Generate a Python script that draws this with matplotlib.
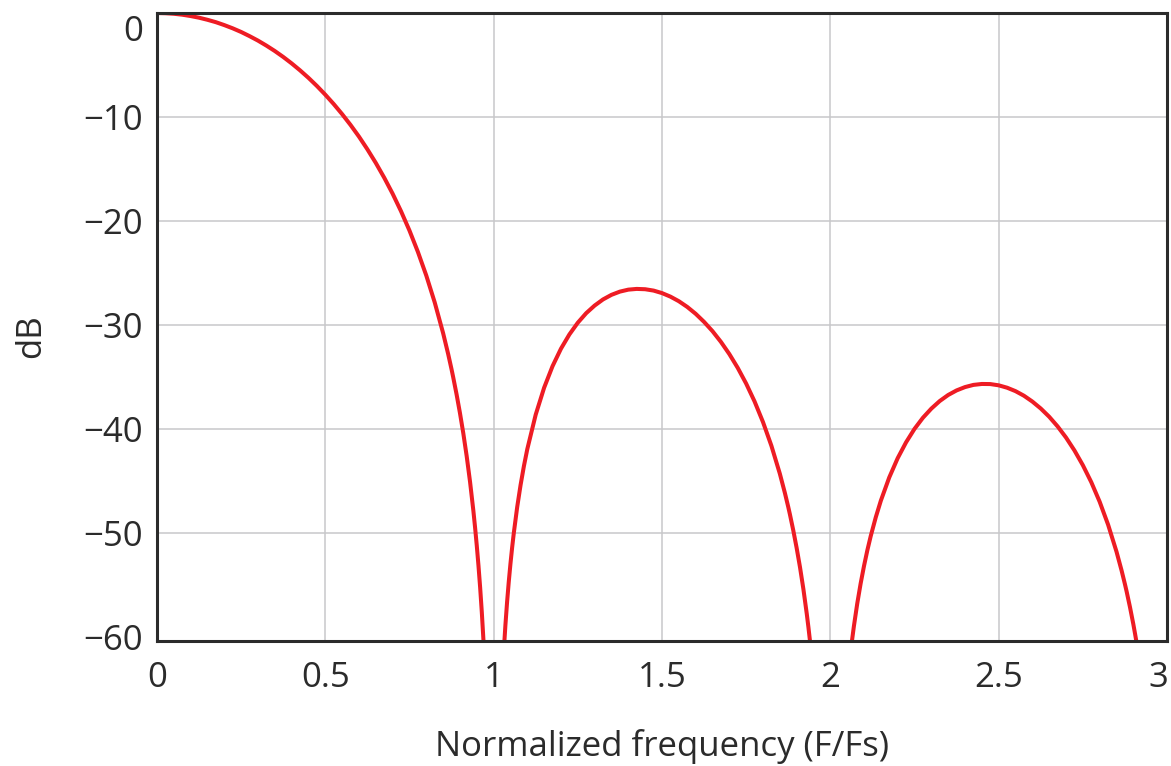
import matplotlib
matplotlib.use("Agg")
import matplotlib.pyplot as plt
import matplotlib.transforms as mtransforms

# Values (normalized frequency, dB), one list per lobe
main_f = [0.0, 0.025, 0.05, 0.075, 0.1, 0.125, 0.15, 0.175, 0.2, 0.225, 0.25,
          0.275, 0.3, 0.325, 0.35, 0.375, 0.4, 0.425, 0.45, 0.475, 0.5, 0.525,
          0.55, 0.575, 0.6, 0.625, 0.65, 0.675, 0.7, 0.725, 0.75, 0.775, 0.8,
          0.825, 0.85, 0.865, 0.875, 0.88, 0.89, 0.9, 0.91, 0.92, 0.93, 0.94,
          0.945, 0.95, 0.955, 0.96, 0.965, 0.97, 0.975]
main_db = [0.0, -0.02, -0.07, -0.16, -0.29, -0.45, -0.65, -0.88, -1.16, -1.47,
           -1.82, -2.22, -2.65, -3.13, -3.65, -4.22, -4.84, -5.51, -6.23, -7.01,
           -7.85, -8.75, -9.72, -10.76, -11.88, -13.10, -14.41, -15.83, -17.37,
           -19.06, -20.91, -22.96, -25.24, -27.82, -30.78, -32.79, -34.25,
           -35.03, -36.67, -38.46, -40.42, -42.61, -45.08, -47.90, -49.49,
           -51.22, -53.13, -55.25, -57.65, -60.41, -63.66]

lobe1_f = [1.03, 1.035, 1.04, 1.045, 1.05, 1.055, 1.06, 1.07, 1.08, 1.09, 1.1,
           1.125, 1.15, 1.175, 1.2, 1.225, 1.25, 1.275, 1.3, 1.325, 1.35, 1.375,
           1.4, 1.425, 1.45, 1.475, 1.5, 1.525, 1.55, 1.575, 1.6, 1.625, 1.65,
           1.675, 1.7, 1.725, 1.75, 1.775, 1.8, 1.825, 1.85, 1.865, 1.875, 1.88,
           1.89, 1.9, 1.91, 1.92, 1.93, 1.935, 1.94, 1.945]
lobe1_db = [-61.46, -58.87, -56.64, -54.69, -52.96, -51.40, -49.99, -47.51,
            -45.40, -43.56, -41.94, -38.62, -36.03, -33.96, -32.28, -30.91,
            -29.78, -28.86, -28.13, -27.54, -27.10, -26.79, -26.60, -26.53,
            -26.56, -26.69, -26.93, -27.27, -27.71, -28.26, -28.92, -29.70,
            -30.59, -31.62, -32.79, -34.12, -35.63, -37.35, -39.33, -41.61,
            -44.29, -46.14, -47.49, -48.21, -49.75, -51.44, -53.30, -55.39,
            -57.76, -59.07, -60.49, -62.03]

lobe2_f = [2.06, 2.065, 2.07, 2.08, 2.09, 2.1, 2.11, 2.12, 2.135, 2.15, 2.175,
           2.2, 2.225, 2.25, 2.275, 2.3, 2.325, 2.35, 2.375, 2.4, 2.425, 2.45,
           2.475, 2.5, 2.525, 2.55, 2.575, 2.6, 2.625, 2.65, 2.675, 2.7, 2.725,
           2.75, 2.775, 2.8, 2.825, 2.85, 2.865, 2.875, 2.88, 2.89, 2.9, 2.905,
           2.91]
lobe2_db = [-61.53, -60.20, -58.97, -56.78, -54.87, -53.18, -51.66, -50.30,
            -48.49, -46.90, -44.66, -42.81, -41.28, -39.99, -38.92, -38.04,
            -37.31, -36.73, -36.29, -35.97, -35.76, -35.67, -35.68, -35.80,
            -36.03, -36.36, -36.80, -37.36, -38.03, -38.82, -39.75, -40.82,
            -42.06, -43.48, -45.11, -47.00, -49.20, -51.80, -53.60, -54.92,
            -55.62, -57.13, -58.78, -59.68, -60.62]

x_ticks = [0, 0.5, 1, 1.5, 2, 2.5, 3]
x_labels = ["0", "0.5", "1", "1.5", "2", "2.5", "3"]
y_ticks = [0, -10, -20, -30, -40, -50, -60]

plt.rcParams['font.family'] = ['Open Sans', 'DejaVu Sans']

fig = plt.figure(figsize=(11.71, 7.66), dpi=100)
ax = fig.add_axes([0.134, 0.163, 0.8626, 0.820])

red = "#ee1c24"
for f, db in [(main_f, main_db), (lobe1_f, lobe1_db), (lobe2_f, lobe2_db)]:
    ax.plot(f, db, color=red, lw=2.9, solid_capstyle="butt",
            solid_joinstyle="round", zorder=3)

ax.set_xlim(0, 3)
ax.set_ylim(-60.4, 0)
ax.set_xticks(x_ticks)
ax.set_xticklabels(x_labels)
ax.set_yticks(y_ticks)
ax.set_yticklabels(["0"] + ["\u2212%d" % abs(v) for v in y_ticks[1:]])

ax.grid(True, color="#c8c8ca", lw=1.1, zorder=1)
ax.set_axisbelow(True)
# the -60 line is hidden by the bottom frame in the original
ax.get_ygridlines()[-1].set_visible(False)
ax.tick_params(length=0, labelsize=25, colors="#2b2b2b")
ax.tick_params(axis="x", pad=14)
ax.tick_params(axis="y", pad=10)
for sp in ax.spines.values():
    sp.set_linewidth(2.2)
    sp.set_color("#2b2b2b")
    sp.set_zorder(4)

# the "0" label sits lower than its gridline in the original
lbl0 = ax.get_yticklabels()[0]
lbl0.set_transform(lbl0.get_transform() +
                   mtransforms.ScaledTranslation(0, -15 / 100, fig.dpi_scale_trans))
# keep the last x label inside the figure
lbl3 = ax.get_xticklabels()[-1]
lbl3.set_transform(lbl3.get_transform() +
                   mtransforms.ScaledTranslation(-9 / 100, 0, fig.dpi_scale_trans))

ax.set_xlabel("Normalized frequency (F/Fs)", fontsize=25, color="#2b2b2b", labelpad=25)
ax.set_ylabel("dB", fontsize=25, color="#2b2b2b")
ax.yaxis.set_label_coords(-0.108, 0.485)

fig.savefig("out.png", dpi=100, facecolor="white")
